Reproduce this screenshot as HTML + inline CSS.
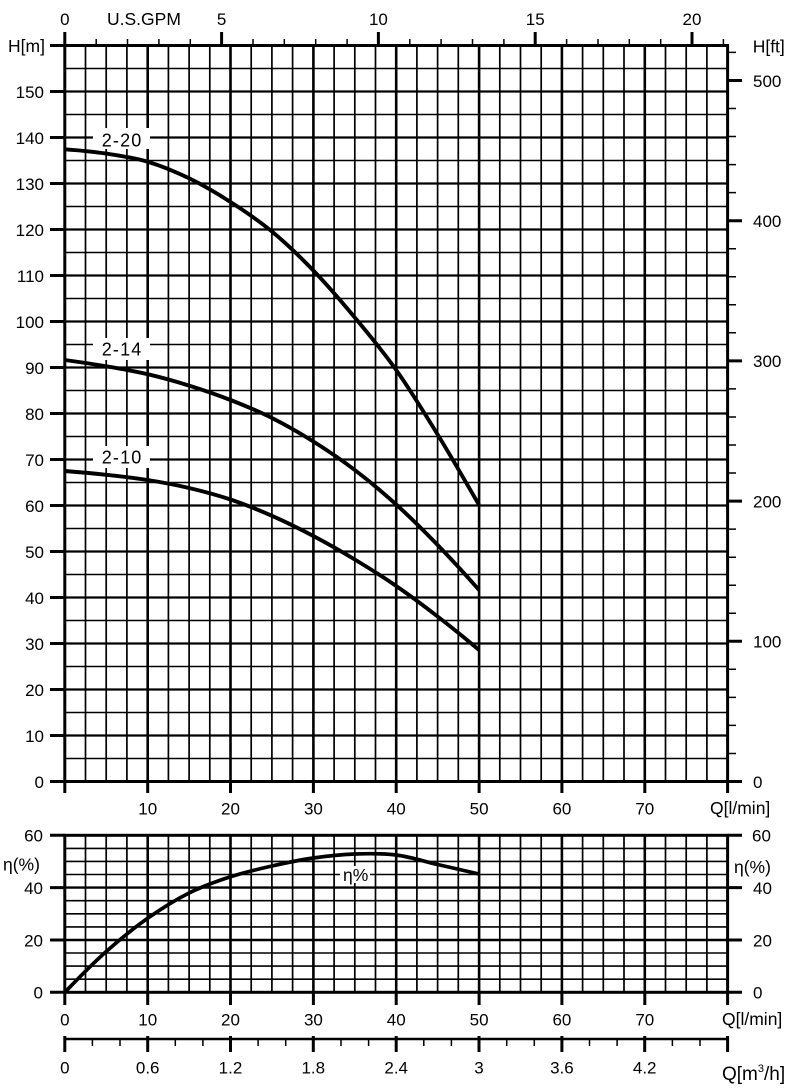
<!DOCTYPE html>
<html><head><meta charset="utf-8"><style>
html,body{margin:0;padding:0;background:#fff;}
svg{display:block;}
text{font-family:"Liberation Sans",Arial,sans-serif;fill:#000;}
.n{font-size:17px;}
.w{font-size:17.5px;}
.c{font-size:18px;letter-spacing:1.2px;}
</style></head><body>
<svg width="800" height="1091" viewBox="0 0 800 1091" xmlns="http://www.w3.org/2000/svg">
<rect width="800" height="1091" fill="#fff"/>
<g stroke="#000" fill="none">
<!-- TOP CHART GRID -->
<path stroke-width="1.7" d="M85.5 45.5V781.5M106.2 45.5V781.5M126.9 45.5V781.5M168.4 45.5V781.5M189.1 45.5V781.5M209.8 45.5V781.5M251.2 45.5V781.5M271.9 45.5V781.5M292.6 45.5V781.5M334.1 45.5V781.5M354.8 45.5V781.5M375.5 45.5V781.5M416.9 45.5V781.5M437.6 45.5V781.5M458.3 45.5V781.5M499.8 45.5V781.5M520.5 45.5V781.5M541.2 45.5V781.5M582.6 45.5V781.5M603.3 45.5V781.5M624 45.5V781.5M665.5 45.5V781.5M686.2 45.5V781.5M706.9 45.5V781.5"/>
<path stroke-width="2.6" d="M147.7 45.5V781.5M230.5 45.5V781.5M313.4 45.5V781.5M396.2 45.5V781.5M479.1 45.5V781.5M561.9 45.5V781.5M644.8 45.5V781.5"/>
<path stroke-width="1.6" d="M64.8 758.5H727.6M64.8 712.5H727.6M64.8 666.5H727.6M64.8 620.5H727.6M64.8 574.5H727.6M64.8 528.5H727.6M64.8 482.5H727.6M64.8 436.5H727.6M64.8 390.5H727.6M64.8 344.5H727.6M64.8 298.5H727.6M64.8 252.5H727.6M64.8 206.5H727.6M64.8 160.5H727.6M64.8 114.5H727.6M64.8 68.5H727.6"/>
<path stroke-width="2.3" d="M64.8 735.5H727.6M64.8 689.5H727.6M64.8 643.5H727.6M64.8 597.5H727.6M64.8 551.5H727.6M64.8 505.5H727.6M64.8 459.5H727.6M64.8 413.5H727.6M64.8 367.5H727.6M64.8 321.5H727.6M64.8 275.5H727.6M64.8 229.5H727.6M64.8 183.5H727.6M64.8 137.5H727.6M64.8 91.5H727.6"/>
<rect x="64.8" y="45.5" width="662.8" height="736" stroke-width="3"/>
<!-- top chart ticks -->
<path stroke-width="3" d="M50 781.5H64.8M50 735.5H64.8M50 689.5H64.8M50 643.5H64.8M50 597.5H64.8M50 551.5H64.8M50 505.5H64.8M50 459.5H64.8M50 413.5H64.8M50 367.5H64.8M50 321.5H64.8M50 275.5H64.8M50 229.5H64.8M50 183.5H64.8M50 137.5H64.8M50 91.5H64.8M50 45.5H64.8"/>
<path stroke-width="3" d="M64.8 781.5V793M147.7 781.5V793M230.5 781.5V793M313.4 781.5V793M396.2 781.5V793M479.1 781.5V793M561.9 781.5V793M644.8 781.5V793M727.6 781.5V793"/>
<path stroke-width="1.5" d="M727.6 753.5H736M727.6 725.4H736M727.6 697.4H736M727.6 669.3H736M727.6 613.3H736M727.6 585.2H736M727.6 557.2H736M727.6 529.1H736M727.6 473H736M727.6 445H736M727.6 417H736M727.6 388.9H736M727.6 332.8H736M727.6 304.8H736M727.6 276.8H736M727.6 248.7H736M727.6 192.6H736M727.6 164.6H736M727.6 136.5H736M727.6 108.5H736M727.6 52.4H736"/>
<path stroke-width="3" d="M727.6 781.5H742M727.6 641.3H742M727.6 501.1H742M727.6 360.9H742M727.6 220.7H742M727.6 80.5H742"/>
<path stroke-width="3" d="M64.8 32V45.5M221.6 32V45.5M378.4 32V45.5M535.2 32V45.5M692 32V45.5"/>
<path stroke-width="1.5" d="M96.2 39V45.5M127.5 39V45.5M158.9 39V45.5M190.3 39V45.5M253 39V45.5M284.3 39V45.5M315.7 39V45.5M347.1 39V45.5M409.8 39V45.5M441.1 39V45.5M472.5 39V45.5M503.9 39V45.5M566.6 39V45.5M598 39V45.5M629.3 39V45.5M660.7 39V45.5M723.4 39V45.5"/>

<!-- BOTTOM CHART GRID -->
<path stroke-width="1.7" d="M85.5 835.3V992.3M106.2 835.3V992.3M126.9 835.3V992.3M168.4 835.3V992.3M189.1 835.3V992.3M209.8 835.3V992.3M251.2 835.3V992.3M271.9 835.3V992.3M292.6 835.3V992.3M334.1 835.3V992.3M354.8 835.3V992.3M375.5 835.3V992.3M416.9 835.3V992.3M437.6 835.3V992.3M458.3 835.3V992.3M499.8 835.3V992.3M520.5 835.3V992.3M541.2 835.3V992.3M582.6 835.3V992.3M603.3 835.3V992.3M624 835.3V992.3M665.5 835.3V992.3M686.2 835.3V992.3M706.9 835.3V992.3"/>
<path stroke-width="2.6" d="M147.7 835.3V992.3M230.5 835.3V992.3M313.4 835.3V992.3M396.2 835.3V992.3M479.1 835.3V992.3M561.9 835.3V992.3M644.8 835.3V992.3"/>
<path stroke-width="1.6" d="M64.8 979.2H727.6M64.8 966.1H727.6M64.8 953H727.6M64.8 926.9H727.6M64.8 913.8H727.6M64.8 900.7H727.6M64.8 874.5H727.6M64.8 861.4H727.6M64.8 848.4H727.6"/>
<path stroke-width="2.4" d="M64.8 940H727.6M64.8 887.6H727.6"/>
<rect x="64.8" y="835.3" width="662.8" height="157" stroke-width="3"/>
<path stroke-width="3" d="M50 992.3H64.8M50 940H64.8M50 887.6H64.8M50 835.3H64.8M727.6 992.3H742M727.6 940H742M727.6 887.6H742M727.6 835.3H742"/>
<path stroke-width="3" d="M64.8 992.3V1005M147.7 992.3V1005M230.5 992.3V1005M313.4 992.3V1005M396.2 992.3V1005M479.1 992.3V1005M561.9 992.3V1005M644.8 992.3V1005M727.6 992.3V1005"/>

<!-- m3/h axis -->
<path stroke-width="2.5" d="M64.8 1039H727.6"/>
<path stroke-width="3" d="M64.8 1036V1052M147.7 1036V1052M230.5 1036V1052M313.3 1036V1052M396.2 1036V1052M479 1036V1052M561.9 1036V1052M644.7 1036V1052M727.6 1036V1052"/>
<path stroke-width="1.5" d="M92.4 1039V1046M120 1039V1046M175.3 1039V1046M202.9 1039V1046M258.1 1039V1046M285.7 1039V1046M341 1039V1046M368.6 1039V1046M423.8 1039V1046M451.4 1039V1046M506.7 1039V1046M534.3 1039V1046M589.5 1039V1046M617.1 1039V1046M672.4 1039V1046M700 1039V1046"/>
</g>

<!-- label boxes -->
<g fill="#fff">
<rect x="93" y="128" width="57" height="21"/>
<rect x="93" y="338" width="57" height="22"/>
<rect x="93" y="446" width="57" height="22"/>
<rect x="340" y="866" width="30" height="17"/>
</g>

<!-- curves -->
<g stroke="#000" fill="none" stroke-width="3.9" stroke-linejoin="round" stroke-linecap="butt">
<path d="M64.8 149.3 C78.61 150.3 92.42 151.53 106.23 153.6 S133.84 157.58 147.65 161.7 S175.27 171.58 189.08 178.3 S216.69 193.13 230.5 202 S258.12 220.08 271.93 231.5 S299.54 256.17 313.35 270.5 S340.97 300.92 354.78 317.5 S382.39 350.5 396.2 370 S423.82 412 437.63 434.5 S465.24 481 479.05 505"/>
<path d="M64.8 360 C78.61 361.83 92.42 363.93 106.23 366.3 S133.84 370.98 147.65 374.2 S175.27 381.3 189.08 385.6 S216.69 394.6 230.5 400 S258.12 411.08 271.93 418 S299.54 432.83 313.35 441.5 S340.97 459.5 354.78 470 S382.39 492 396.2 504.5 S423.82 530.75 437.63 545 S465.24 574.33 479.05 590"/>
<path d="M64.8 471 C78.61 472.1 92.42 473.3 106.23 474.8 S133.84 477.8 147.65 480 S175.27 484.75 189.08 488 S216.69 494.87 230.5 499.5 S258.12 509.72 271.93 515.8 S299.54 528.72 313.35 536 S340.97 551.17 354.78 559.5 S382.39 576.5 396.2 586 S423.82 605.83 437.63 616.5 S465.24 638.33 479.05 650"/>
<path stroke-width="3.7" d="M64.8 992.3 C78.61 977.97 92.42 963.83 106.23 951.5 S133.84 928.05 147.65 918.3 S175.27 899.92 189.08 893 S216.69 881.3 230.5 876.8 S258.12 869.13 271.93 866 S299.54 860 313.35 858 S340.97 854.5 354.78 854 S382.39 853.25 396.2 855 S423.82 861.33 437.63 864.5 S465.24 870.83 479.05 874"/>
</g>

<!-- texts -->
<g class="n" text-anchor="end">
<text x="44" y="787.8">0</text>
<text x="44" y="741.8">10</text>
<text x="44" y="695.8">20</text>
<text x="44" y="649.8">30</text>
<text x="44" y="603.8">40</text>
<text x="44" y="557.8">50</text>
<text x="44" y="511.8">60</text>
<text x="44" y="465.8">70</text>
<text x="44" y="419.8">80</text>
<text x="44" y="373.8">90</text>
<text x="44" y="327.8">100</text>
<text x="44" y="281.8">110</text>
<text x="44" y="235.8">120</text>
<text x="44" y="189.8">130</text>
<text x="44" y="143.8">140</text>
<text x="44" y="97.8">150</text>
<text x="43" y="841.6">60</text>
<text x="43" y="893.9">40</text>
<text x="43" y="946.3">20</text>
<text x="43" y="998.6">0</text>
</g>
<text class="w" x="8" y="52">H[m]</text>
<g class="n" text-anchor="middle">
<text x="64.8" y="25">0</text>
<text x="221.6" y="25">5</text>
<text x="378.4" y="25">10</text>
<text x="535.2" y="25">15</text>
<text x="692" y="25">20</text>
<text x="147.7" y="814.3">10</text>
<text x="230.5" y="814.3">20</text>
<text x="313.4" y="814.3">30</text>
<text x="396.2" y="814.3">40</text>
<text x="479.1" y="814.3">50</text>
<text x="561.9" y="814.3">60</text>
<text x="644.8" y="814.3">70</text>
<text x="64.8" y="1025.3">0</text>
<text x="147.7" y="1025.3">10</text>
<text x="230.5" y="1025.3">20</text>
<text x="313.4" y="1025.3">30</text>
<text x="396.2" y="1025.3">40</text>
<text x="479.1" y="1025.3">50</text>
<text x="561.9" y="1025.3">60</text>
<text x="644.8" y="1025.3">70</text>
<text x="64.8" y="1073.3">0</text>
<text x="147.7" y="1073.3">0.6</text>
<text x="230.5" y="1073.3">1.2</text>
<text x="313.3" y="1073.3">1.8</text>
<text x="396.2" y="1073.3">2.4</text>
<text x="479" y="1073.3">3</text>
<text x="561.9" y="1073.3">3.6</text>
<text x="644.7" y="1073.3">4.2</text>
</g>
<text class="w" x="107" y="25">U.S.GPM</text>
<text class="w" x="752.7" y="52.7">H[ft]</text>
<g class="n">
<text x="753" y="86.8">500</text>
<text x="753" y="227">400</text>
<text x="753" y="367.2">300</text>
<text x="753" y="507.4">200</text>
<text x="753" y="647.6">100</text>
<text x="753" y="787.8">0</text>
<text x="752" y="841.6">60</text>
<text x="753" y="893.9">40</text>
<text x="753" y="946.3">20</text>
<text x="753" y="998.6">0</text>
</g>
<text class="w" x="710" y="814">Q[l/min]</text>
<text class="w" x="722" y="1025">Q[l/min]</text>
<text x="722" y="1080" font-size="19">Q[m<tspan font-size="11" dy="-8">3</tspan><tspan dy="8">/h]</tspan></text>
<text class="w" x="3" y="870.3">η(%)</text>
<text class="w" x="734" y="873">η(%)</text>
<text class="w" x="343" y="881">η%</text>
<g class="c">
<text x="101.7" y="146.3">2-20</text>
<text x="101.7" y="355.3">2-14</text>
<text x="101.7" y="463.3">2-10</text>
</g>
</svg>
</body></html>
